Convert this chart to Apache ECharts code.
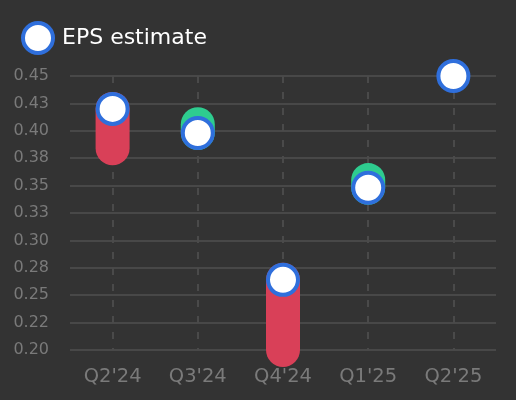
<!DOCTYPE html>
<html>
<head>
    <meta charset="UTF-8">
    <title>EPS estimate</title>
    <script src="https://cdn.jsdelivr.net/npm/echarts@6/dist/echarts.min.js"></script>
    <style>
        html, body { margin: 0; padding: 0; background: #333333; }
        #main { width: 516px; height: 400px; }
    </style>
</head>
<body>
<div id="main"></div>
<script type="text/javascript">
    // 数据
    var categories = ["Q2'24", "Q3'24", "Q4'24", "Q1'25", "Q2'25"];
    var estimate = [0.42, 0.398, 0.264, 0.348, 0.45];
    var actual = [0.384, 0.406, 0.2, 0.355, null];
    var yTickLabels = ['0.20', '0.22', '0.25', '0.28', '0.30', '0.33', '0.35', '0.38', '0.40', '0.43', '0.45'];

    var green = '#2ecc8f';
    var red = '#d94058';
    var blue = '#2f6fdc';
    var font = 'DejaVu Sans';

    var rangeData = [];
    categories.forEach(function (c, i) {
        if (actual[i] != null) {
            rangeData.push([i, estimate[i], actual[i]]);
        }
    });

    var myChart = echarts.init(document.getElementById('main'));
    var option = {
        backgroundColor: '#333333',
        animation: false,
        textStyle: { fontFamily: font },
        legend: {
            data: ['EPS estimate'],
            left: 16,
            top: 16,
            itemWidth: 30,
            itemHeight: 30,
            icon: 'circle',
            itemStyle: { color: '#ffffff', borderColor: blue, borderWidth: 4 },
            textStyle: { color: '#ffffff', fontSize: 22, fontFamily: font, padding: [0, 0, 0, 4] }
        },
        grid: { left: 70, right: 20, top: 76, bottom: 50 },
        xAxis: {
            type: 'category',
            data: categories,
            axisLine: { show: false },
            axisTick: { show: false, alignWithLabel: true },
            axisLabel: { color: '#7a7a7a', fontSize: 19.5, fontFamily: font, margin: 17 },
            splitLine: {
                show: true,
                alignWithLabel: true,
                lineStyle: { color: '#4a4a4a', width: 2, type: [7, 9] }
            }
        },
        yAxis: {
            type: 'value',
            min: 0.2,
            max: 0.45,
            interval: 0.025,
            axisLine: { show: false },
            axisTick: { show: false },
            axisLabel: {
                color: '#7a7a7a',
                fontSize: 16,
                fontFamily: font,
                margin: 21,
                formatter: function (v) {
                    return yTickLabels[Math.round((v - 0.2) / 0.025)];
                }
            },
            splitLine: { lineStyle: { color: '#484848', width: 2 } }
        },
        series: [
            {
                name: 'range',
                type: 'custom',
                data: rangeData,
                encode: { x: 0, y: [1, 2] },
                renderItem: function (params, api) {
                    var est = api.value(1);
                    var act = api.value(2);
                    var p1 = api.coord([api.value(0), est]);
                    var p2 = api.coord([api.value(0), act]);
                    return {
                        type: 'line',
                        shape: { x1: p1[0], y1: p1[1], x2: p2[0], y2: p2[1] },
                        style: { stroke: act >= est ? green : red, lineWidth: 34, lineCap: 'round' }
                    };
                }
            },
            {
                name: 'EPS estimate',
                type: 'scatter',
                data: estimate,
                symbol: 'circle',
                symbolSize: 30,
                z: 5,
                itemStyle: { color: '#ffffff', borderColor: blue, borderWidth: 4, opacity: 1 }
            }
        ]
    };
    myChart.setOption(option);
</script>
</body>
</html>
